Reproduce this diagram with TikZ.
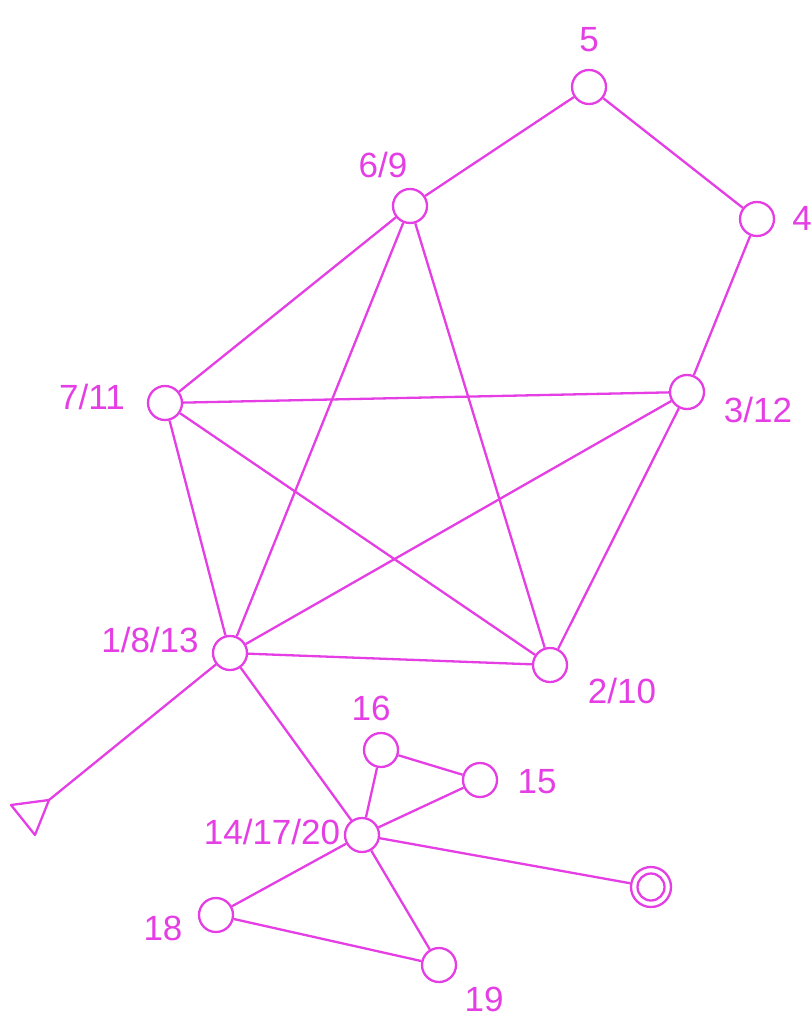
\documentclass[tikz,border=0pt]{standalone}
\usepackage{fontspec}
\setmainfont{Liberation Sans}
\usetikzlibrary{shapes,positioning,calc}
\definecolor{graphMag}{RGB}{228, 62, 228}

\begin{document}
\begin{tikzpicture}[
    x=1pt, y=-1pt,
    vertex/.style={circle, draw=graphMag, line width=2.3pt, minimum size=34pt, inner sep=0pt},
    edge/.style={draw=graphMag, line width=2.3pt},
    tag/.style={text=graphMag, font=\fontsize{35}{40}\selectfont, inner sep=0pt}
]
\useasboundingbox (0,0) rectangle (811,1019);

% Upper part: pentagon
\node[vertex] (v5) at (589,87) {};
\node[vertex] (v4) at (757,219) {};
\node[vertex] (v69) at (410,206) {};
\node[vertex] (v711) at (165,403) {};
\node[vertex] (v312) at (687,392) {};
\node[vertex] (v1813) at (230,653) {};
\node[vertex] (v210) at (550,665) {};

% Lower part
\node[vertex] (v16) at (381,750) {};
\node[vertex] (v15) at (480,780) {};
\node[vertex] (v141720) at (362,835) {};
\node[vertex] (v18) at (216,915) {};
\node[vertex] (v19) at (439,965) {};
\node[circle, draw=graphMag, line width=2.3pt, minimum size=40pt, inner sep=0pt] (finish) at (651,887) {};
\node[circle, draw=graphMag, line width=2.3pt, minimum size=27pt, inner sep=0pt] at (finish) {};
\coordinate (startTip) at (49,800);
\draw[edge, line join=round] (startTip) -- (11,805) -- (35,835) -- cycle;

% Labels
\node[tag] (l5) at (589,40) {5};
\node[tag] (l4) at (802,218) {4};
\node[tag] (l69) at (383,165) {6/9};
\node[tag] (l711) at (92,397) {7/11};
\node[tag] (l312) at (758,410) {3/12};
\node[tag] (l1813) at (150,640) {1/8/13};
\node[tag] (l210) at (622,691) {2/10};
\node[tag] (l16) at (371,708) {16};
\node[tag] (l15) at (537,782) {15};
\node[tag] (l141720) at (272,832) {14/17/20};
\node[tag] (l18) at (163,928) {18};
\node[tag] (l19) at (484,999) {19};

% Edges
\draw[edge] (v5) -- (v69);
\draw[edge] (v5) -- (v4);
\draw[edge] (v4) -- (v312);
\draw[edge] (v69) -- (v711);
\draw[edge] (v69) -- (v1813);
\draw[edge] (v69) -- (v210);
\draw[edge] (v711) -- (v312);
\draw[edge] (v711) -- (v1813);
\draw[edge] (v711) -- (v210);
\draw[edge] (v312) -- (v1813);
\draw[edge] (v312) -- (v210);
\draw[edge] (v1813) -- (v210);
\draw[edge] (v1813) -- (startTip);
\draw[edge] (v1813) -- (v141720);
\draw[edge] (v141720) -- (v16);
\draw[edge] (v141720) -- (v15);
\draw[edge] (v16) -- (v15);
\draw[edge] (v141720) -- (finish);
\draw[edge] (v141720) -- (v18);
\draw[edge] (v141720) -- (v19);
\draw[edge] (v18) -- (v19);
\end{tikzpicture}
\end{document}
